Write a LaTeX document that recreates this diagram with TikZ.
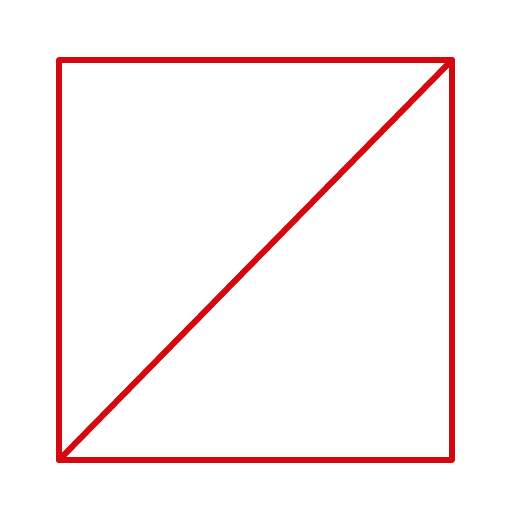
\documentclass[tikz,border=0pt]{standalone}
\definecolor{sqred}{RGB}{212,8,14}
\begin{document}
\begin{tikzpicture}[x=1pt,y=-1pt,
  edge/.style={draw=sqred,line width=6pt,line join=round,line cap=round}]
\useasboundingbox[fill=white] (0,0) rectangle (512,512);
\coordinate (tl) at (59,60);
\coordinate (tr) at (452,60);
\coordinate (br) at (452,460);
\coordinate (bl) at (59,460);
\draw[edge] (tl) -- (tr) -- (br) -- (bl) -- cycle;
\draw[edge] (bl) -- (tr);
\end{tikzpicture}
\end{document}
